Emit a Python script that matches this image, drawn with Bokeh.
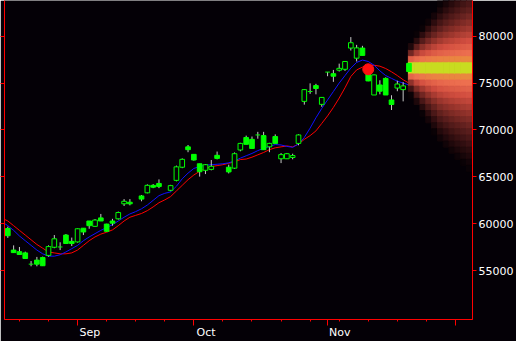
import numpy as np
from bokeh.plotting import figure
from bokeh.models import Range1d, LinearAxis, FixedTicker
from bokeh.embed import file_html
from bokeh.resources import INLINE

# ---------------- data ----------------
BASE_DAY = "2018-09-03"                       # first trading day of September
HOLIDAYS = ["2018-09-17", "2018-09-24", "2018-10-08"]
FIRST_DAY = "2018-08-16"
LAST_DAY = "2018-11-20"

candle_open = [59500, 57200, 57030, 56900, 55700, 56130, 56400, 56630, 57500, 57530, 58800, 58130,
               58070, 59530, 60300, 59730, 60630, 59970, 60300, 60530, 62130, 62300,
               62970, 63300, 64100, 64300,
               63570, 64630, 66030, 68200, 67400, 66400, 65700, 65800, 67300,
               66030, 65930, 67870, 69200, 69000, 69470, 69400, 68200, 69300, 66930, 66930, 67070,
               68570, 73050, 74100, 74730, 72730, 76170, 76000, 76370, 76470, 78730, 77650, 78730,
               76100, 73730, 74800, 75500, 73200, 74470, 74300]
candle_high = [59700, 57700, 57530, 57030, 56030, 56470, 56500, 57700, 58800, 58030, 58900, 58530,
               59500, 59530, 60300, 60500, 61050, 60000, 60530, 61300, 62630, 62630,
               63070, 64200, 64230, 64730,
               64150, 66200, 66970, 68400, 67400, 66400, 66370, 66800, 67700,
               66300, 67600, 68630, 69400, 69300, 69800, 69800, 68630, 69530, 67530, 67550, 67470,
               69530, 74350, 74970, 74920, 73500, 76170, 76400, 77070, 77350, 79900, 79070, 78970,
               76300, 75900, 75300, 75600, 73700, 75250, 75100]
candle_low = [58500, 56900, 56730, 56300, 55470, 55470, 55500, 56500, 57400, 57200, 57900, 57630,
              58000, 58800, 59470, 59700, 60300, 59150, 59800, 60450, 61900, 61970,
              62400, 63250, 63800, 63800,
              63470, 64530, 65930, 67630, 66730, 65030, 65300, 65700, 66870,
              65370, 65850, 67730, 68470, 68030, 69070, 67900, 67630, 68570, 66470, 66900, 66870,
              68370, 72700, 73850, 73800, 72470, 75730, 75130, 76230, 76300, 78470, 77300, 77950,
              75200, 73730, 73800, 73730, 72130, 74130, 73050]
candle_close = [58730, 56930, 56730, 56300, 55700, 55700, 55530, 57570, 58400, 57530, 57900, 57900,
                59470, 59130, 59800, 60400, 60300, 59200, 60070, 61200, 62400, 62130,
                62630, 64100, 63900, 63970,
                64070, 66070, 66870, 67900, 66800, 65550, 66300, 66130, 66970,
                65530, 67470, 68570, 68470, 68030, 69470, 67900, 68570, 68570, 67370, 67470, 67270,
                69470, 74300, 74100, 74420, 73470, 76170, 75730, 76570, 77300, 79300, 78750, 77950,
                75230, 75870, 74130, 73730, 72720, 74900, 74700]

MA_START = "2018-08-15"
ma_fast = [60200, 59800, 59300, 58700, 58200, 57700, 57200, 56800, 56550, 56550, 56700, 57000, 57350,
           57700, 58200, 58600, 58950, 59300, 59600, 59900, 60300, 60700, 61050, 61300, 61600, 62000,
           62500, 63000, 63250, 63400, 64000, 64800, 65400, 65900, 66100, 66250, 66300, 66350, 66400,
           66500, 66700, 67000, 67250, 67500, 67800, 68050, 68250, 68450, 68400, 68250, 68150, 68500,
           69200, 70200, 71300, 72300, 73200, 74100, 75000, 75800, 76600, 77200, 77450, 77300, 76900,
           76300, 75800, 75500, 75200, 75000, 74800]
ma_slow = [60600, 60300, 59800, 59300, 58800, 58300, 57800, 57400, 57000, 56900, 56800, 56800, 56900,
           57200, 57700, 58200, 58600, 58900, 59100, 59350, 59800, 60300, 60700, 60900, 61100, 61400,
           61800, 62250, 62550, 62900, 63500, 64100, 64700, 65200, 65600, 65900, 66100, 66200, 66300,
           66450, 66600, 66850, 66900, 67100, 67350, 67600, 67900, 68100, 68200, 68300, 68200, 68500,
           69000, 69400, 69900, 70700, 71500, 72400, 73400, 74500, 75700, 76400, 76700, 76850, 76900,
           76800, 76550, 76200, 75800, 75350, 75000]

signal_day = ["2018-11-12"]
signal_price = [76470]

forecast_day = "2018-11-21"
forecast_open = 77100
forecast_close = 76230

heat_days = 11                       # forecast columns
heat_center_low = 75970
heat_center_high = 77270
heat_row = 650
heat_rows_up = [2.8, 4.2, 5.5, 6.7, 8.0, 9.2, 10.3, 11.3, 12.3, 13.2, 14.0]
heat_rows_down = [3.4, 5.0, 6.5, 8.0, 9.5, 11.0, 12.0, 13.0, 13.8, 14.5, 15.2]

price_ticks = [55000, 60000, 65000, 70000, 75000, 80000]
month_days = ["2018-09-03", "2018-10-01", "2018-11-01", "2018-12-03"]
month_labels = ["Sep", "Oct", "Nov", ""]

# ---------------- helpers ----------------
def bidx(days):
    return np.busday_count(np.datetime64(BASE_DAY), np.array(days, dtype="datetime64[D]")).astype(float)

all_days = np.arange(np.datetime64(FIRST_DAY), np.datetime64(LAST_DAY) + 1)
trade_days = all_days[np.is_busday(all_days, holidays=HOLIDAYS)]
cx = bidx(trade_days)

ma_days = np.busday_offset(np.datetime64(MA_START), np.arange(len(ma_fast)), roll="forward")
mx = bidx(ma_days)

BG = "#040006"
GREEN = "#00ff00"
WICK = "#c8c8c8"

p = figure(width=516, height=341, x_range=Range1d(-12.57, 67.93), y_range=Range1d(49800, 83800),
           output_backend="svg", toolbar_location=None, x_axis_location=None, y_axis_location=None,
           background_fill_color=BG, border_fill_color=BG, outline_line_color=None, min_border=0)
p.xgrid.visible = False
p.ygrid.visible = False
for g in p.grid:
    g.grid_line_color = None

# moving averages
p.line(mx, ma_slow, line_color="#ff0000", line_width=1)
p.line(mx, ma_fast, line_color="#1010ff", line_width=1)

# heat map (forecast distribution)
stops_t = [0.0, 0.10, 0.25, 0.42, 0.60, 0.80, 1.0]
stops_c = [(232, 150, 55), (238, 112, 80), (210, 78, 64), (150, 52, 44), (95, 32, 30), (48, 14, 16), (10, 2, 6)]

def heat_color(t):
    r = np.interp(t, stops_t, [c[0] for c in stops_c])
    g = np.interp(t, stops_t, [c[1] for c in stops_c])
    b = np.interp(t, stops_t, [c[2] for c in stops_c])
    return "#%02x%02x%02x" % (int(r), int(g), int(b))

hx0 = bidx([forecast_day])[0]
L, R, B, T, C = [], [], [], [], []
for c in range(heat_days):
    left = hx0 + c - 0.1
    L.append(left); R.append(left + 1); B.append(heat_center_low); T.append(heat_center_high); C.append("#c8dc20")
    for ext, sign in ((heat_rows_up[c], 1), (heat_rows_down[c], -1)):
        k = 0
        while k < ext:
            t = (k + 0.5) / ext
            if sign > 0:
                b0 = heat_center_high + k * heat_row
                t0 = b0 + heat_row
            else:
                t0 = heat_center_low - k * heat_row
                b0 = t0 - heat_row
            L.append(left); R.append(left + 1); B.append(b0); T.append(t0); C.append(heat_color(t))
            k += 1
p.quad(left=L, right=R, bottom=B, top=T, fill_color=C, line_color=C, line_width=1)

# candles
o = np.array(candle_open, float); h = np.array(candle_high, float)
lo = np.array(candle_low, float); cl = np.array(candle_close, float)
p.segment(x0=cx, y0=lo, x1=cx, y1=h, line_color=WICK, line_width=1)
body = o != cl
up = body & (cl > o)
down = body & (cl < o)
doji = ~body
p.vbar(x=cx[down], width=0.8, top=o[down], bottom=cl[down], fill_color=GREEN, line_color=GREEN)
p.vbar(x=cx[up], width=0.8, top=cl[up], bottom=o[up], fill_color=BG, line_color=GREEN)
p.segment(x0=cx[doji] - 0.4, y0=o[doji], x1=cx[doji] + 0.4, y1=o[doji], line_color=GREEN, line_width=1)

# forecast marker
p.vbar(x=[hx0], width=0.8, top=[forecast_open], bottom=[forecast_close], fill_color=GREEN, line_color=GREEN)

# signal dot
p.scatter(bidx(signal_day), signal_price, size=11, fill_color="#ff1010", line_color="#ff1010")

# axes
ra = LinearAxis(ticker=FixedTicker(ticks=price_ticks, minor_ticks=[]),
                axis_line_color="#ff0000", major_tick_line_color="#ff0000",
                major_tick_out=4, major_tick_in=0, minor_tick_out=0, minor_tick_in=0,
                major_label_text_color="#ffffff", major_label_text_font="DejaVu Sans",
                major_label_text_font_size="11px", major_label_standoff=2)
p.add_layout(ra, "right")

la = LinearAxis(ticker=FixedTicker(ticks=price_ticks, minor_ticks=[]),
                axis_line_color="#ff0000", major_tick_line_color="#ff0000",
                major_tick_out=4, major_tick_in=0, minor_tick_out=0, minor_tick_in=0,
                major_label_text_font_size="0px", major_label_text_alpha=0, major_label_standoff=0)
p.add_layout(la, "left")

mt = [int(v) for v in bidx(month_days)]
mondays = np.arange(np.datetime64("2018-08-13"), np.datetime64("2018-12-04"), 7)
wt = [int(v) for v in bidx(mondays)]
NB = "\u00a0"
overrides = {m: (NB * 7 + lab if lab else "") for m, lab in zip(mt, month_labels)}
ba = LinearAxis(ticker=FixedTicker(ticks=mt, minor_ticks=wt),
                axis_line_color="#ff0000", major_tick_line_color="#ff0000", minor_tick_line_color="#ff0000",
                major_tick_out=6, major_tick_in=0, minor_tick_out=2, minor_tick_in=0,
                major_label_overrides=overrides,
                major_label_text_color="#ffffff", major_label_text_font="DejaVu Sans",
                major_label_text_font_size="11px", major_label_standoff=0)
p.add_layout(ba, "below")

open("out.html", "w").write(file_html(p, INLINE))
